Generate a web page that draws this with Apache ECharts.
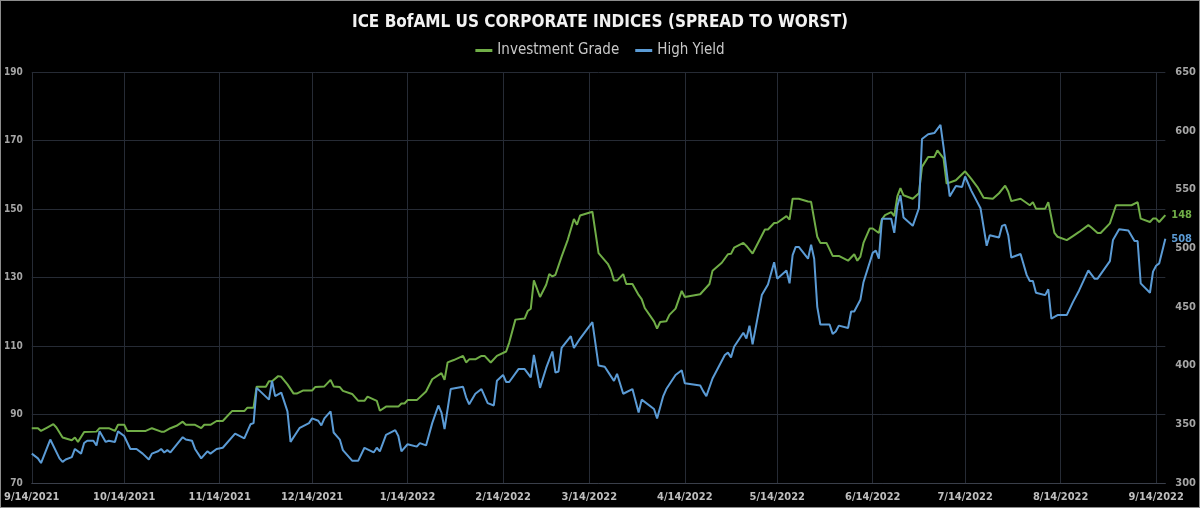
<!DOCTYPE html>
<html>
<head>
<meta charset="utf-8">
<title>ICE BofAML US Corporate Indices</title>
<script src="https://cdn.jsdelivr.net/npm/echarts@6/dist/echarts.min.js"></script>
<style>
  html, body { margin: 0; padding: 0; background: #000; }
  #chart { width: 1200px; height: 508px; box-sizing: border-box; border: 1px solid #8c8c8c; }
</style>
</head>
<body>
<div id="chart"></div>
<script>
// x axis runs day by day from 9/14/2021, points are [day offset, spread]
const startDate = new Date(2021, 8, 14)
const dayCount = 369
const tickLabels = ['9/14/2021', '10/14/2021', '11/14/2021', '12/14/2021', '1/14/2022', '2/14/2022',
  '3/14/2022', '4/14/2022', '5/14/2022', '6/14/2022', '7/14/2022', '8/14/2022', '9/14/2022']

// Investment Grade, left axis (bp)
const igPoints = [
  [0, 86.0], [2, 86.0], [3, 85.2], [5, 86.2], [7, 87.2], [8, 86.2], [10, 83.3], [13, 82.5], [14, 83.3], [15, 82.0],
  [17, 84.9], [21, 85.0], [22, 86.0], [25, 86.0], [27, 85.2], [28, 87.0], [30, 87.0], [31, 85.2], [37, 85.2], [39, 86.0],
  [42, 85.0], [43, 85.0], [45, 86.0], [47, 86.7], [49, 87.9], [50, 87.0], [53, 87.0], [55, 86.0], [56, 87.0], [58, 87.0],
  [60, 88.1], [62, 88.1], [65, 91.0], [69, 91.0], [70, 92.0], [72, 92.0], [73, 98.1], [76, 98.1], [77, 99.7], [78, 99.7],
  [80, 101.2], [81, 101.0], [83, 98.8], [85, 96.1], [86, 96.1], [88, 97.0], [91, 97.0], [92, 98.0], [95, 98.2], [97, 100.1],
  [98, 98.2], [100, 98.0], [101, 96.9], [104, 96.0], [106, 94.0], [108, 94.0], [109, 95.2], [112, 94.0], [113, 91.1], [115, 92.3],
  [119, 92.3], [120, 93.2], [121, 93.2], [122, 94.2], [125, 94.2], [128, 96.7], [130, 100.3], [133, 102.1], [134, 100.1], [135, 105.2],
  [137, 105.9], [140, 107.1], [141, 105.2], [142, 106.1], [144, 106.1], [146, 107.1], [147, 107.1], [149, 105.2], [151, 107.1], [154, 108.4],
  [155, 111.0], [157, 117.7], [160, 118.0], [161, 120.2], [162, 120.9], [163, 129.2], [165, 124.3], [167, 127.9], [168, 131.0], [169, 130.3],
  [170, 130.8], [172, 136.1], [174, 141.0], [176, 147.1], [177, 145.4], [178, 148.1], [182, 149.2], [184, 137.1], [187, 134.0], [188, 132.2],
  [189, 129.1], [190, 129.1], [192, 131.0], [193, 128.1], [195, 128.1], [197, 124.9], [198, 123.7], [199, 121.1], [202, 117.2], [203, 115.1],
  [204, 117.0], [206, 117.2], [207, 119.1], [209, 120.9], [211, 126.1], [212, 124.3], [217, 125.1], [220, 128.1], [221, 132.0], [224, 134.3],
  [226, 136.8], [227, 136.9], [228, 138.7], [231, 140.1], [232, 139.2], [234, 137.0], [238, 144.0], [239, 144.0], [241, 145.9], [242, 146.0],
  [245, 147.9], [246, 146.9], [247, 153.0], [249, 153.0], [252, 152.2], [253, 152.1], [255, 141.9], [256, 140.1], [258, 140.1], [260, 136.3],
  [262, 136.3], [265, 134.9], [267, 136.8], [268, 134.9], [269, 136.1], [270, 140.1], [272, 144.3], [273, 144.3], [275, 143.0], [276, 147.0],
  [277, 148.2], [279, 149.1], [280, 147.9], [281, 153.7], [282, 156.1], [283, 154.0], [286, 153.0], [288, 154.6], [289, 162.3], [291, 165.2],
  [293, 165.2], [294, 167.1], [296, 164.8], [297, 157.4], [300, 158.4], [303, 161.0], [305, 158.8], [307, 156.4], [309, 153.3], [312, 153.0],
  [314, 154.6], [316, 156.8], [317, 155.1], [318, 152.3], [321, 153.0], [324, 151.1], [325, 152.0], [326, 150.1], [329, 150.1], [330, 152.0],
  [332, 143.0], [333, 141.9], [336, 140.9], [338, 142.1], [340, 143.3], [343, 145.3], [344, 144.6], [346, 143.0], [347, 143.0], [350, 145.8],
  [352, 151.1], [357, 151.1], [359, 152.0], [360, 147.2], [363, 146.2], [364, 147.2], [365, 147.2], [366, 146.2], [368, 148.2]
]

// High Yield, right axis (bp)
const hyPoints = [
  [0, 325], [2, 321], [3, 317], [6, 337], [9, 321], [10, 318], [11, 320], [13, 322], [14, 329], [16, 325],
  [17, 334], [18, 336], [20, 336], [21, 332], [22, 344], [24, 335], [25, 336], [27, 335], [28, 344], [30, 340],
  [32, 329], [34, 329], [36, 325], [38, 320], [39, 325], [41, 327], [42, 329], [43, 326], [44, 328], [45, 326],
  [49, 339], [50, 337], [52, 336], [53, 329], [55, 321], [57, 327], [58, 325], [60, 329], [62, 330], [66, 342],
  [69, 338], [71, 350], [72, 351], [73, 381], [77, 371], [78, 387], [79, 374], [81, 377], [83, 361], [84, 335],
  [87, 347], [90, 351], [91, 355], [93, 353], [94, 349], [95, 355], [97, 361], [98, 343], [100, 337], [101, 328],
  [104, 319], [106, 319], [108, 330], [111, 326], [112, 330], [113, 327], [115, 341], [118, 345], [119, 340], [120, 327],
  [122, 333], [125, 331], [126, 334], [128, 332], [130, 351], [132, 366], [133, 360], [134, 346], [136, 380], [140, 382],
  [141, 373], [142, 367], [144, 376], [146, 380], [148, 368], [150, 366], [151, 387], [153, 392], [154, 386], [155, 386],
  [158, 397], [160, 397], [162, 390], [163, 409], [165, 381], [167, 398], [169, 412], [170, 394], [171, 395], [172, 415],
  [175, 425], [176, 415], [178, 423], [182, 437], [184, 400], [186, 399], [189, 387], [190, 393], [192, 376], [195, 380],
  [197, 360], [198, 371], [202, 363], [203, 355], [205, 374], [206, 380], [209, 392], [211, 396], [212, 385], [217, 383],
  [218, 378], [219, 374], [221, 389], [225, 409], [226, 411], [227, 407], [228, 416], [231, 428], [232, 423], [233, 434],
  [234, 418], [237, 460], [239, 469], [241, 488], [242, 474], [245, 481], [246, 470], [247, 494], [248, 501], [249, 501],
  [252, 491], [253, 503], [254, 491], [255, 450], [256, 435], [259, 435], [260, 427], [261, 429], [262, 434], [265, 432],
  [266, 446], [267, 446], [269, 456], [270, 471], [273, 496], [274, 498], [275, 491], [276, 525], [279, 525], [280, 513],
  [281, 536], [282, 545], [283, 526], [286, 519], [288, 534], [289, 593], [291, 597], [293, 598], [295, 605], [296, 586],
  [298, 544], [300, 553], [302, 552], [303, 561], [305, 549], [308, 534], [310, 502], [311, 511], [314, 509], [315, 519],
  [316, 520], [317, 511], [318, 492], [321, 495], [323, 477], [324, 472], [325, 472], [326, 462], [329, 460], [330, 465],
  [331, 440], [333, 443], [336, 443], [338, 454], [340, 464], [343, 481], [345, 474], [346, 474], [350, 489], [351, 507],
  [353, 516], [356, 515], [358, 506], [359, 506], [360, 470], [363, 462], [364, 480], [365, 485], [366, 487], [368, 508]
]

const igColor = '#70ad47'
const hyColor = '#5b9bd5'
const gridColor = '#262b35'
const font = "'Liberation Sans Narrow', 'DejaVu Sans Condensed', sans-serif"

// one category per calendar day
const categories = []
for (let i = 0; i < dayCount; i++) {
  const d = new Date(startDate.getFullYear(), startDate.getMonth(), startDate.getDate() + i)
  categories.push((d.getMonth() + 1) + '/' + d.getDate() + '/' + d.getFullYear())
}
const isTick = (index, value) => tickLabels.indexOf(value) >= 0

const chart = echarts.init(document.getElementById('chart'))
chart.setOption({
  backgroundColor: '#000',
  animation: false,
  textStyle: { fontFamily: font },
  title: {
    text: 'ICE BofAML US CORPORATE INDICES (SPREAD TO WORST)',
    left: 'center',
    top: 8,
    textStyle: { color: '#f2f2f2', fontSize: 17, fontWeight: 'bold', fontFamily: font }
  },
  legend: {
    top: 37,
    left: 'center',
    icon: 'rect',
    itemWidth: 17,
    itemHeight: 3,
    itemGap: 16,
    textStyle: { color: '#c8c8c8', fontSize: 15, fontFamily: font },
    data: ['Investment Grade', 'High Yield']
  },
  grid: { left: 28, right: 31, top: 71, bottom: 24 },
  xAxis: {
    type: 'category',
    data: categories,
    boundaryGap: false,
    axisLine: { lineStyle: { color: '#3a3f4a' } },
    axisTick: { show: false },
    axisLabel: { interval: isTick, color: '#bfbfbf', fontSize: 11, margin: 9, fontWeight: 'bold' },
    splitLine: { show: true, interval: isTick, lineStyle: { color: gridColor, width: 1 } }
  },
  yAxis: [
    {
      type: 'value',
      min: 70,
      max: 190,
      interval: 20,
      axisLine: { show: false },
      axisTick: { show: false },
      axisLabel: { color: '#a6a6a6', fontSize: 10, margin: 9, fontWeight: 'bold' },
      splitLine: { lineStyle: { color: gridColor, width: 1 } }
    },
    {
      type: 'value',
      position: 'right',
      min: 300,
      max: 650,
      interval: 50,
      axisLine: { show: false },
      axisTick: { show: false },
      axisLabel: { color: '#a6a6a6', fontSize: 11, margin: 10, fontWeight: 'bold' },
      splitLine: { show: false }
    }
  ],
  series: [
    {
      name: 'Investment Grade',
      type: 'line',
      yAxisIndex: 0,
      data: igPoints,
      showSymbol: false,
      color: igColor,
      lineStyle: { color: igColor, width: 2 },
      endLabel: {
        show: true,
        distance: 6,
        color: igColor,
        fontSize: 11,
        fontWeight: 'bold',
        formatter: p => Math.round(p.value[1])
      }
    },
    {
      name: 'High Yield',
      type: 'line',
      yAxisIndex: 1,
      data: hyPoints,
      showSymbol: false,
      color: hyColor,
      lineStyle: { color: hyColor, width: 2 },
      endLabel: {
        show: true,
        distance: 6,
        color: hyColor,
        fontSize: 11,
        fontWeight: 'bold',
        formatter: p => Math.round(p.value[1])
      }
    }
  ]
})
</script>
</body>
</html>
